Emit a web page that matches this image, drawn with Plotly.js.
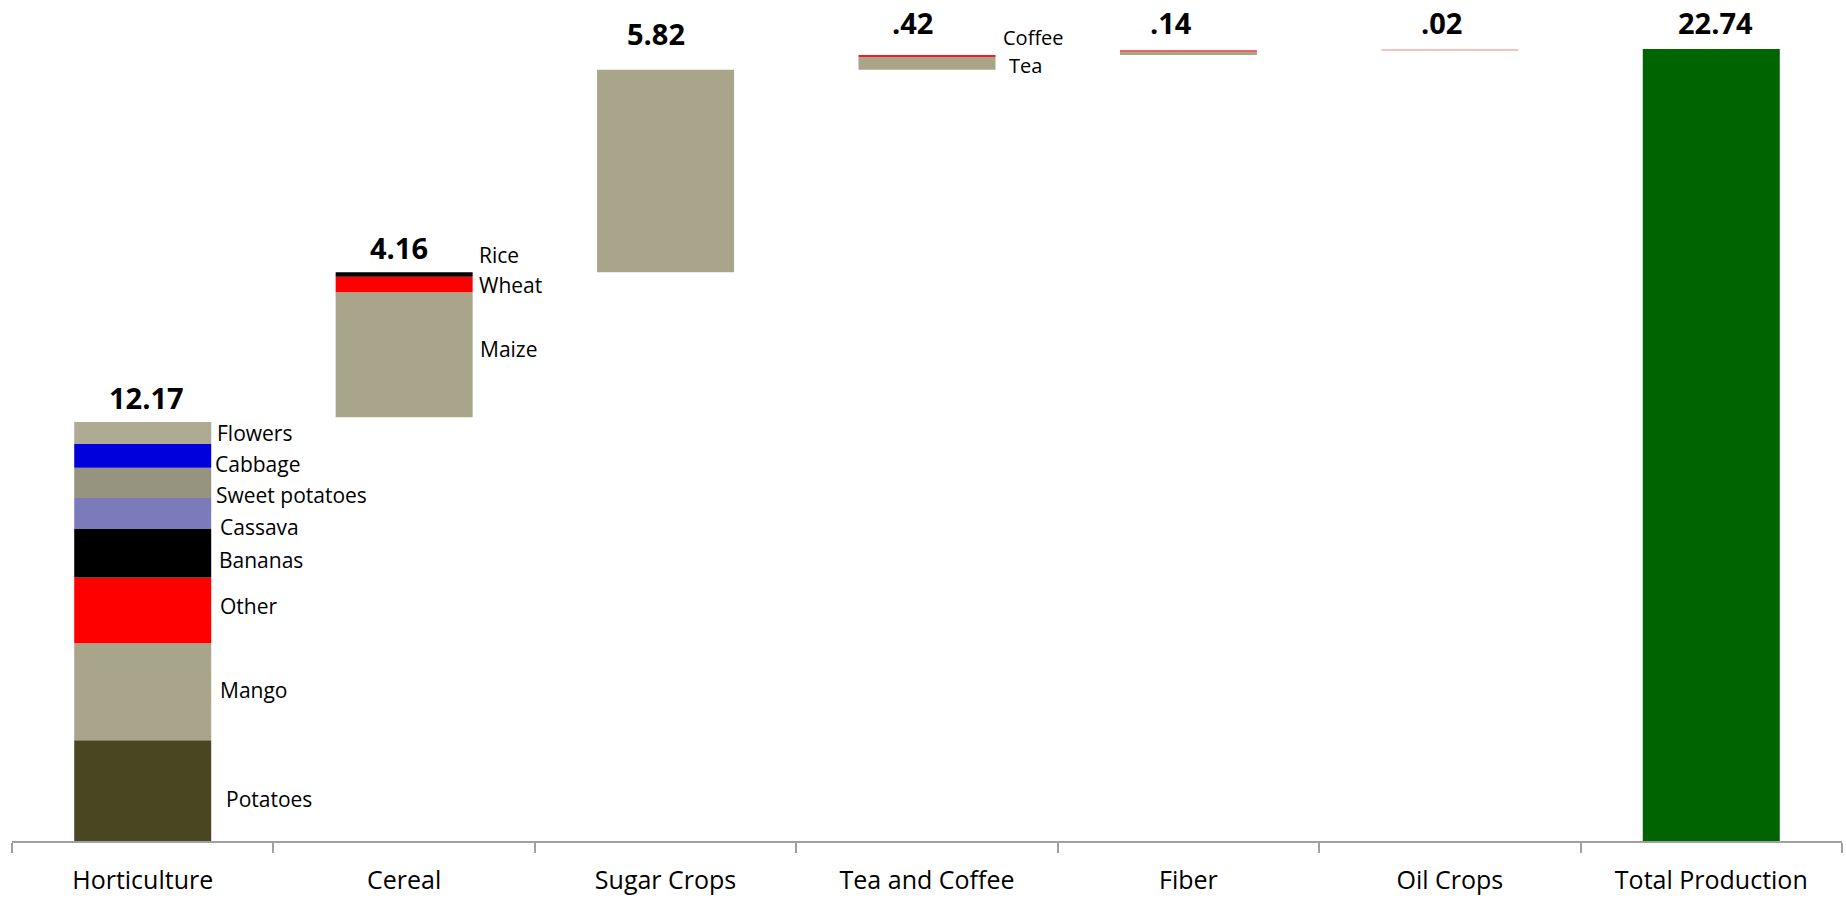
<!DOCTYPE html>
<html>
<head>
<meta charset="utf-8">
<script src="https://cdn.plot.ly/plotly-3.0.1.min.js"></script>
<style>html,body{margin:0;padding:0;background:#fff;}#chart{width:1846px;height:900px;}</style>
</head>
<body>
<div id="chart"></div>
<script>
// ---------------- DATA ----------------
const categories = ['Horticulture', 'Cereal', 'Sugar Crops', 'Tea and Coffee', 'Fiber', 'Oil Crops', 'Total Production'];
const totals = [12.17, 4.16, 5.82, 0.42, 0.14, 0.02, 22.74];
const valueLabels = ['12.17', '4.16', '5.82', '.42', '.14', '.02', '22.74'];

const horticultureNames = ['Potatoes', 'Mango', 'Other', 'Bananas', 'Cassava', 'Sweet potatoes', 'Cabbage', 'Flowers'];
const horticultureValues = [2.89, 2.79, 1.89, 1.39, 0.89, 0.87, 0.68, 0.63];

const cerealNames = ['Maize', 'Wheat', 'Rice'];
const cerealValues = [3.59, 0.44, 0.13];

const sugarNames = ['Sugar Crops'];
const sugarValues = [5.82];

const teaCoffeeNames = ['Tea', 'Coffee'];
const teaCoffeeValues = [0.37, 0.05];

const fiberNames = ['Fiber (part 1)', 'Fiber (part 2)'];
const fiberValues = [0.09, 0.05];

const oilNames = ['Oil Crops'];
const oilValues = [0.02];

const totalNames = ['Total Production'];
const totalValues = [22.74];

const labelledSegments = ['Potatoes', 'Mango', 'Other', 'Bananas', 'Cassava', 'Sweet potatoes', 'Cabbage', 'Flowers', 'Maize', 'Wheat', 'Rice', 'Tea', 'Coffee'];

// ---------------- STYLE ----------------
const FONT = 'Open Sans, Lato, sans-serif';
const BAR_WIDTH = 0.524;
const segColors = {
  'Horticulture|Potatoes': '#4a4622',
  'Horticulture|Mango': '#a8a58a',
  'Horticulture|Other': '#ff0000',
  'Horticulture|Bananas': '#000000',
  'Horticulture|Cassava': '#7b7bbb',
  'Horticulture|Sweet potatoes': '#96947e',
  'Horticulture|Cabbage': '#0000dd',
  'Horticulture|Flowers': '#aeab94',
  'Cereal|Maize': '#a8a58a',
  'Cereal|Wheat': '#ff0000',
  'Cereal|Rice': '#000000',
  'Sugar Crops|Sugar Crops': '#a8a58a',
  'Tea and Coffee|Tea': '#a8a58a',
  'Tea and Coffee|Coffee': '#ff1a1a',
  'Fiber|Fiber (part 1)': '#a8a58a',
  'Fiber|Fiber (part 2)': '#ee6464',
  'Oil Crops|Oil Crops': '#f4c4c0',
  'Total Production|Total Production': '#006400'
};
// label pixel offsets [dx, dy, fontSize]
const labelOffsets = {
  'Flowers': [5, 0, 21], 'Cabbage': [3, -8, 21], 'Sweet potatoes': [4, -12, 21], 'Cassava': [8, -14, 21],
  'Bananas': [7, -7, 21], 'Other': [8, 4, 21], 'Mango': [8, 2, 21], 'Potatoes': [14, -8, 21],
  'Rice': [5, 20, 21], 'Wheat': [5, 0, 21], 'Maize': [6, 6, 21], 'Coffee': [7, 18, 20], 'Tea': [13, -2, 20]
};
const valueShifts = [3, 3, 15, 11, 6, 5, 5];
const valueXShifts = [4, -5, -10, -15, -17, -8, 4];

// ---------------- BUILD ----------------
const groups = [
  [horticultureNames, horticultureValues],
  [cerealNames, cerealValues],
  [sugarNames, sugarValues],
  [teaCoffeeNames, teaCoffeeValues],
  [fiberNames, fiberValues],
  [oilNames, oilValues],
  [totalNames, totalValues]
];

const traces = [];
const annotations = [];
let running = 0;
groups.forEach(function (g, i) {
  const cat = categories[i];
  const isTotal = (i === categories.length - 1);
  const start = isTotal ? 0 : running;
  let acc = start;
  g[0].forEach(function (name, j) {
    const v = g[1][j];
    traces.push({
      type: 'bar', x: [cat], y: [v], base: [acc], width: BAR_WIDTH, name: name,
      marker: { color: segColors[cat + '|' + name], line: { width: 0 } },
      showlegend: false, hovertemplate: name + ': %{y}<extra></extra>'
    });
    if (labelledSegments.indexOf(name) >= 0) {
      const off = labelOffsets[name] || [5, 0, 21];
      annotations.push({
        x: i + BAR_WIDTH / 2, y: acc + v / 2, xref: 'x', yref: 'y',
        xanchor: 'left', yanchor: 'middle', xshift: off[0], yshift: off[1], borderpad: 0,
        text: name, showarrow: false, font: { family: FONT, size: off[2], color: '#000' }
      });
    }
    acc += v;
  });
  annotations.push({
    x: i, y: acc, xref: 'x', yref: 'y', xanchor: 'center', yanchor: 'bottom',
    xshift: valueXShifts[i], yshift: valueShifts[i], text: '<b>' + valueLabels[i] + '</b>', showarrow: false,
    font: { family: FONT, size: 29, color: '#000' }
  });
  if (!isTotal) running += totals[i];
});

const layout = {
  width: 1846, height: 900,
  margin: { l: 12, r: 4, t: 0, b: 59 },
  paper_bgcolor: '#fff', plot_bgcolor: '#fff',
  barmode: 'overlay',
  showlegend: false,
  xaxis: {
    type: 'category', categoryorder: 'array', categoryarray: categories,
    range: [-0.5, categories.length - 0.5],
    showline: true, linecolor: '#a0a0a0', linewidth: 2,
    ticks: 'outside', tickson: 'boundaries', ticklen: 10, tickwidth: 2, tickcolor: '#a0a0a0',
    ticklabelstandoff: 16,
    showgrid: false, zeroline: false,
    tickfont: { family: FONT, size: 25, color: '#000' },
    fixedrange: true
  },
  yaxis: {
    range: [0, 24.15], visible: false, showgrid: false, zeroline: false, fixedrange: true
  },
  annotations: annotations,
  font: { family: FONT }
};

Plotly.newPlot('chart', traces, layout, { displayModeBar: false });
</script>
</body>
</html>
